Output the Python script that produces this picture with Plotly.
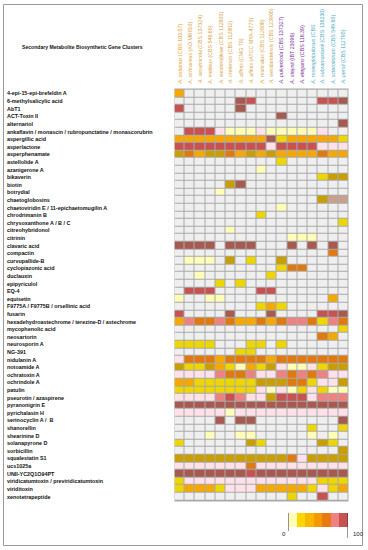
import plotly.graph_objects as go

W, H = 368, 550

compounds = [
    "4-epi-15-epi-brefeldin A", "6-methylsalicylic acid", "AbT1", "ACT-Toxin II", "alternariol",
    "ankaflavin / monascin / rubropunctatine / monascorubrin", "aspergillic acid", "asperlactone",
    "asperphenamate", "astellolide A", "azanigerone A", "bikaverin", "biotin", "botrydial",
    "chaetoglobosins", "chaetoviridin E / 11-epichaetomugilin A", "chrodrimanin B",
    "chrysoxanthone A / B / C", "citreohybridonol", "citrinin", "clavaric acid", "compactin",
    "curvupallide-B", "cyclopiazonic acid", "duclauxin", "epipyriculol", "EQ-4", "equisetin",
    "F9775A / F9775B / orsellinic acid", "fusarin", "hexadehydroastechrome / terezine-D / astechrome",
    "mycophenolic acid", "neosartorin", "neurosporin A", "NG-391", "nidulanin A", "notoamide A",
    "ochratoxin A", "ochrindole A", "patulin", "pseurotin / azaspirene", "pyranonigrin E",
    "pyrichalasin H", "serinocyclin A /  B", "shanorellin", "shearinine D", "solanapyrone D",
    "sorbicillin", "squalestatin S1", "ucs1025a", "UNII-YC2Q1O94PT",
    "viridicatumtoxin / previridicatumtoxin", "viriditoxin", "xenotetrapeptide",
]

species = [
    ("A. ostianus", "(CBS 103.07)"), ("A. ochraceus", "(AO.MR010)"), ("A. sesamicola", "(CBS 137324)"),
    ("A. melleus", "(CBS 546.65)"), ("A. westerdijkiae", "(CBS 112803)"), ("A. cretensis", "(CBS 112802)"),
    ("A. affinis", "(CMG 70)"), ("A. affinis", "(ATCC MYA-4773)"), ("A. muricatus", "(CBS 112808)"),
    ("A. westlandensis", "(CBS 123905)"), ("A. pulvericola", "(CBS 137327)"), ("A. steynii", "(IBT 23096)"),
    ("A. elegans", "(CBS 116.39)"), ("A. roseoglobulosus", "(CBS"), ("A. subramanianii", "(CBS 138230)"),
    ("A. sclerotiorum", "(CBS 549.65)"), ("A. persii", "(CBS 112795)"),
]
species_group = [0, 1, 1, 1, 1, 1, 1, 1, 1, 1, 2, 2, 2, 3, 3, 3, 3]

# one code per species column; codes are similarity classes
cells = [
    "o................",
    "......br......rrb",
    "r.....b..........",
    "..........b......",
    "................b",
    ".rrrplllplllllp..",
    "ooooooooobyoooooy",
    "rrrrrrrrrprrrrppp",
    "gdoggdogogoooodoo",
    "..........y......",
    "........l........",
    "..............ygg",
    ".....gb..........",
    "....l............",
    "..............gtt",
    "..........l......",
    "........y........",
    "................y",
    ".....l...........",
    "...........lll...",
    "bbbb.bbb...b.b.b.",
    "...............d.",
    ".lll.g.y..g......",
    "..........ydd....",
    "..l......y.......",
    "....y.y..........",
    ".rrr....rr.......",
    "l..ll..........o.",
    "........yoy......",
    "r....b...b....rrb",
    "osddsdoododssdysd",
    "................y",
    "..............do.",
    "yyyy...yy.y......",
    "......yy.........",
    "pdddoddddoddddddd",
    "gyygoyloygpllpygg",
    "ppppsddsppsdsdspp",
    "ooyyyyyygggddyppg",
    "yyyyyyyyplplypyll",
    "ppppsrsppgrrrpsss",
    "bbbbbbbbbbbbbbbbb",
    "ppppplppppppppppp",
    "....b.bb........b",
    ".............y..y",
    "...l..ll.....l.l.",
    "y......gy.....gy.",
    "................g",
    "gggggggggggdpgggg",
    "pppppppdppppppppp",
    "bbbbbbbrbbbbbbbbb",
    "ypppppppppppppyyy",
    "yoooypppoooooypyo",
    "...........y..r..",
]

codes = [".", "p", "l", "y", "g", "o", "d", "s", "r", "b", "t"]
code_colors = ["#EFEFEF", "#FFE1EA", "#FFFDB8", "#EED600", "#C99E00", "#F5A800",
               "#E07A10", "#EC8282", "#C65252", "#A65A50", "#C9A08E"]

legend_colors = ["#FFFDB8", "#FFD500", "#F8B800", "#F29A00", "#E87A10", "#EE8282", "#C65252"]
legend_ticks = ["0", "100"]

group_colors = ["#EE9A2A", "#D8A446", "#7A2E9C", "#4BAAC4"]


def discrete_scale(cols):
    n = len(cols)
    sc = []
    for i, c in enumerate(cols):
        sc.append([i / n, c])
        sc.append([(i + 1) / n, c])
    return sc


def px(x):
    return x / W


def py(y):
    return 1 - y / H


col_names = [f"{a} {b}" for a, b in species]
z = [[codes.index(ch) for ch in row] for row in cells]

fig = go.Figure()
fig.add_trace(go.Heatmap(
    z=z, x=col_names, y=compounds,
    colorscale=discrete_scale(code_colors), zmin=-0.5, zmax=len(codes) - 0.5,
    xgap=1, ygap=1, showscale=False, hoverinfo="skip",
))
fig.add_trace(go.Heatmap(
    z=[list(range(len(legend_colors)))], xaxis="x2", yaxis="y2",
    colorscale=discrete_scale(legend_colors), zmin=-0.5, zmax=len(legend_colors) - 0.5,
    showscale=False, hoverinfo="skip",
))

annotations = []
for c in compounds:
    annotations.append(dict(
        x=px(5), xref="paper", y=c, yref="y", text=f"<b>{c}</b>", showarrow=False,
        xanchor="left", yanchor="middle",
        font=dict(family="Liberation Sans", size=5.4, color="#111111"),
    ))
for (a, b), name, g in zip(species, col_names, species_group):
    annotations.append(dict(
        x=name, xref="x", y=py(86.5), yref="paper", text=f"<i>{a}</i> {b}",
        showarrow=False, textangle=-90, xanchor="center", yanchor="bottom",
        font=dict(family="Liberation Sans", size=5.3, color=group_colors[g]),
    ))
annotations.append(dict(
    x=px(20), xref="paper", y=py(47), yref="paper",
    text="<b>Secondary Metabolite Biosynthetic Gene Clusters</b>", showarrow=False,
    xanchor="left", yanchor="middle",
    font=dict(family="Liberation Sans", size=5.1, color="#111111"),
))
annotations.append(dict(x=px(284), xref="paper", y=py(534), yref="paper", text=legend_ticks[0],
                        showarrow=False, xanchor="center", yanchor="middle",
                        font=dict(family="Liberation Sans", size=6, color="#222222")))
annotations.append(dict(x=px(351), xref="paper", y=py(534), yref="paper",
                        text=legend_ticks[1], showarrow=False, xanchor="left", yanchor="middle",
                        font=dict(family="Liberation Sans", size=6, color="#222222")))

shapes = [
    dict(type="rect", xref="paper", yref="paper", x0=px(3.5), x1=px(362.5), y0=py(545.5), y1=py(4.5),
         line=dict(color="#9A9A9A", width=1), fillcolor="rgba(0,0,0,0)", layer="below"),
    dict(type="line", xref="x2", yref="paper", x0=-0.5, x1=-0.5, y0=py(513), y1=py(531),
         line=dict(color="#333333", width=1)),
    dict(type="line", xref="x2", yref="paper", x0=len(legend_colors) - 0.5, x1=len(legend_colors) - 0.5,
         y0=py(513), y1=py(538), line=dict(color="#333333", width=1)),
]

fig.update_layout(
    width=W, height=H, margin=dict(l=0, r=0, t=0, b=0),
    paper_bgcolor="white", plot_bgcolor="#A9A9A9",
    xaxis=dict(domain=[px(174.5), px(348.5)], showticklabels=False, ticks="", showgrid=False,
               zeroline=False, anchor="y"),
    yaxis=dict(domain=[py(501.5), py(88.5)], showticklabels=False, ticks="", showgrid=False,
               zeroline=False, autorange="reversed", anchor="x"),
    xaxis2=dict(domain=[px(288), px(348)], showticklabels=False, ticks="", showgrid=False,
                zeroline=False, anchor="y2", range=[-0.5, len(legend_colors) - 0.5]),
    yaxis2=dict(domain=[py(527), py(513)], showticklabels=False, ticks="", showgrid=False,
                zeroline=False, anchor="x2", range=[-0.5, 0.5]),
    annotations=annotations, shapes=shapes, showlegend=False,
)

fig.write_html("out.html", config={"displayModeBar": False},
               post_script="document.body.style.margin='0px';")
